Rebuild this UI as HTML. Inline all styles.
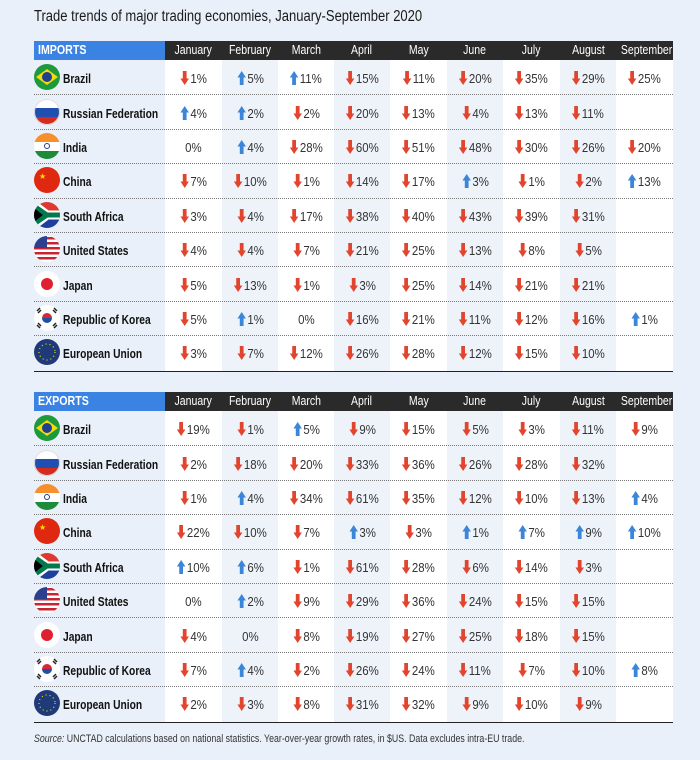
<!DOCTYPE html>
<html><head><meta charset="utf-8">
<style>
html,body{margin:0;padding:0}
body{width:700px;height:760px;background:#eaf0f9;position:relative;overflow:hidden;font-family:"Liberation Sans",sans-serif;color:#222}
.abs{position:absolute}
.sq{display:inline-block;transform:scaleX(0.85);transform-origin:left center;white-space:nowrap}
.sc{display:inline-block;transform:scaleX(0.88);transform-origin:center center;white-space:nowrap}
#title{left:34px;top:8px;font-size:15.5px;color:#1a1a1a;white-space:nowrap}
.hdr{height:19px;line-height:19px;font-size:12.5px;color:#fff}
.cell{text-align:center;font-size:13px;color:#333}
.name{font-weight:bold;font-size:12.5px;color:#111;white-space:nowrap}
.sep{height:0;border-top:1px dotted #777}
#source{left:34px;top:733px;font-size:11px;color:#333;white-space:nowrap}
</style></head>
<body>
<div id="title" class="abs"><span class="sq" style="transform:scaleX(0.84)">Trade trends of major trading economies, January-September 2020</span></div>
<div id="source" class="abs"><span class="sq" style="transform:scaleX(0.8)"><i>Source:</i> UNCTAD calculations based on national statistics. Year-over-year growth rates, in $US. Data excludes intra-EU trade.</span></div>
<script>
const months = ["January","February","March","April","May","June","July","August","September"];
const countries = ["Brazil","Russian Federation","India","China","South Africa","United States","Japan","Republic of Korea","European Union"];
const importsBrazil=[-1,5,11,-15,-11,-20,-35,-29,-25];
const importsRussia=[4,2,-2,-20,-13,-4,-13,-11,null];
const importsIndia=[0,4,-28,-60,-51,-48,-30,-26,-20];
const importsChina=[-7,-10,-1,-14,-17,3,-1,-2,13];
const importsSouthAfrica=[-3,-4,-17,-38,-40,-43,-39,-31,null];
const importsUS=[-4,-4,-7,-21,-25,-13,-8,-5,null];
const importsJapan=[-5,-13,-1,-3,-25,-14,-21,-21,null];
const importsKorea=[-5,1,0,-16,-21,-11,-12,-16,1];
const importsEU=[-3,-7,-12,-26,-28,-12,-15,-10,null];
const exportsBrazil=[-19,-1,5,-9,-15,-5,-3,-11,-9];
const exportsRussia=[-2,-18,-20,-33,-36,-26,-28,-32,null];
const exportsIndia=[-1,4,-34,-61,-35,-12,-10,-13,4];
const exportsChina=[-22,-10,-7,3,-3,1,7,9,10];
const exportsSouthAfrica=[10,6,-1,-61,-28,-6,-14,-3,null];
const exportsUS=[0,2,-9,-29,-36,-24,-15,-15,null];
const exportsJapan=[-4,0,-8,-19,-27,-25,-18,-15,null];
const exportsKorea=[-7,4,-2,-26,-24,-11,-7,-10,8];
const exportsEU=[-2,-3,-8,-31,-32,-9,-10,-9,null];
const importsData=[importsBrazil,importsRussia,importsIndia,importsChina,importsSouthAfrica,importsUS,importsJapan,importsKorea,importsEU];
const exportsData=[exportsBrazil,exportsRussia,exportsIndia,exportsChina,exportsSouthAfrica,exportsUS,exportsJapan,exportsKorea,exportsEU];

const colX=[165,222,278,334,390,447,503,560,616,673];
const flags=[
'<circle r="13" fill="#1e9a3c"/><path d="M-11 0L0-8L11 0L0 8Z" fill="#f5d90a"/><circle r="5" fill="#1f3f8f"/>',
'<clipPath id="cR"><circle r="13"/></clipPath><g clip-path="url(#cR)"><rect x="-13" y="-13" width="26" height="9" fill="#fff"/><rect x="-13" y="-4" width="26" height="9" fill="#1f4fb0"/><rect x="-13" y="5" width="26" height="9" fill="#d52b1e"/></g><circle r="12.5" fill="none" stroke="#ddd"/>',
'<clipPath id="cI"><circle r="13"/></clipPath><g clip-path="url(#cI)"><rect x="-13" y="-13" width="26" height="9" fill="#f7902b"/><rect x="-13" y="-4" width="26" height="9" fill="#fff"/><rect x="-13" y="5" width="26" height="9" fill="#1c8c3a"/></g><circle r="2.5" fill="none" stroke="#1f3f8f"/>',
'<circle r="13" fill="#de2910"/><text x="-8" y="-1" font-size="8" fill="#ffde00">★</text>',
'<clipPath id="cS"><circle r="13"/></clipPath><g clip-path="url(#cS)"><rect x="-13" y="-13" width="26" height="13" fill="#de3831"/><rect x="-13" y="0" width="26" height="13" fill="#1f3f9f"/><path d="M-13-10L0 0L13 0" stroke="#fff" stroke-width="9" fill="none"/><path d="M-13 10L0 0" stroke="#fff" stroke-width="9"/><path d="M-13-9L0 0L13 0M-13 9L0 0" stroke="#007a4d" stroke-width="5" fill="none"/><path d="M-13-7L-4 0L-13 7Z" fill="#000"/></g>',
'<clipPath id="cU"><circle r="13"/></clipPath><g clip-path="url(#cU)"><rect x="-13" y="-13" width="26" height="26" fill="#fff"/><g fill="#c8242f"><rect x="-13" y="-12" width="26" height="2.5"/><rect x="-13" y="-7" width="26" height="2.5"/><rect x="-13" y="-2" width="26" height="2.5"/><rect x="-13" y="3" width="26" height="2.5"/><rect x="-13" y="8" width="26" height="2.5"/></g><rect x="-13" y="-13" width="13" height="12" fill="#2d3f8f"/></g>',
'<circle r="13" fill="#fff"/><circle r="6" fill="#e02030"/>',
'<circle r="13" fill="#fff"/><path d="M-5 0A5 5 0 0 1 5 0Z" fill="#d5283a"/><path d="M-5 0A5 5 0 0 0 5 0Z" fill="#1f4fa0"/><g stroke="#222" stroke-width="1.5"><path d="M-10-7l3-3M-9-5l3-3M7-10l3 3M6-8l3 3M-10 7l3 3M-9 5l3 3M7 10l3-3M6 8l3-3"/></g>',
'<circle r="13" fill="#1f3a78"/><circle r="8" fill="none" stroke="#f5d90a" stroke-width="1.2" stroke-dasharray="1 3"/>'
];
function arrow(v){
  if(v===0) return '';
  const c=v<0?'#e2452e':'#3b86d9';
  const p=v<0?'M2.5 0H6.5V7H9L4.5 13L0 7H2.5Z':'M2.5 13H6.5V6H9L4.5 0L0 6H2.5Z';
  return '<svg width="11" height="14" viewBox="0 0 9 13" style="vertical-align:-2px;margin-right:1px"><path d="'+p+'" fill="'+c+'"/></svg>';
}
function section(label,data,top,key){
  const rowH=34.4, hdrH=19;
  const body=document.body;
  const h=document.createElement('div');
  h.className='abs hdr';
  
  
  h.style.cssText='left:34px;top:'+top+'px;width:127px;padding-left:4px;background:#3b83e3;font-weight:bold';
  h.innerHTML='<span class="sq">'+label+'</span>'; body.appendChild(h);
  const bodyH=rowH*9+2;
  months.forEach((m,i)=>{
    const bg=document.createElement('div');
    bg.className='abs';
    
    
    bg.style.cssText='left:'+colX[i]+'px;top:'+(top+hdrH)+'px;width:'+(colX[i+1]-colX[i])+'px;height:'+bodyH+'px;background:'+(i%2?'#eef3fa':'#fff');
    body.appendChild(bg);
    const mh=document.createElement('div');
    mh.className='abs hdr';
    
    
    mh.style.cssText='left:'+colX[i]+'px;top:'+top+'px;width:'+(colX[i+1]-colX[i])+'px;background:#2a2a2a;text-align:center';
    mh.innerHTML='<span class="sc" style="transform:scaleX(0.84)">'+m+'</span>'; body.appendChild(mh);
  });
  countries.forEach((c,r)=>{
    const y0=top+hdrH+r*rowH, cy=y0+rowH/2;
    if(r>0){
      const s=document.createElement('div');
      s.className='abs sep';
      
      
      s.style.cssText='left:34px;top:'+y0+'px;width:639px';
      body.appendChild(s);
    }
    const f=document.createElement('div');
    f.className='abs';
    
    
    f.style.cssText='left:34px;top:'+(cy-13)+'px;width:26px;height:26px';
    f.innerHTML='<svg width="26" height="26" viewBox="-13 -13 26 26">'+flags[r].replace(/id="c(\w)"/,'id="c$1'+key+'"').replace(/url\(#c(\w)\)/,'url(#c$1'+key+')')+'</svg>';
    body.appendChild(f);
    const n=document.createElement('div');
    n.className='abs name';
    
    
    n.style.cssText='left:63px;top:'+(cy-6)+'px;line-height:16px';
    n.innerHTML='<span class="sq" style="transform:scaleX(0.82)">'+c+'</span>'; body.appendChild(n);
    data[r].forEach((v,i)=>{
      if(v===null) return;
      const d=document.createElement('div');
      d.className='abs cell';
      
      
      d.style.cssText='left:'+colX[i]+'px;top:'+(cy-6)+'px;width:'+(colX[i+1]-colX[i])+'px;line-height:16px';
      d.innerHTML='<span class="sc">'+arrow(v)+Math.abs(v)+'%</span>';
      body.appendChild(d);
    });
  });
  const b=document.createElement('div');
  b.className='abs';
  
  
  b.style.cssText='left:34px;top:'+(top+hdrH+bodyH-1)+'px;width:639px;height:1.5px;background:#222';
  body.appendChild(b);
}
section('IMPORTS',importsData,41,'imports');
section('EXPORTS',exportsData,392,'exports');
</script>
</body></html>
